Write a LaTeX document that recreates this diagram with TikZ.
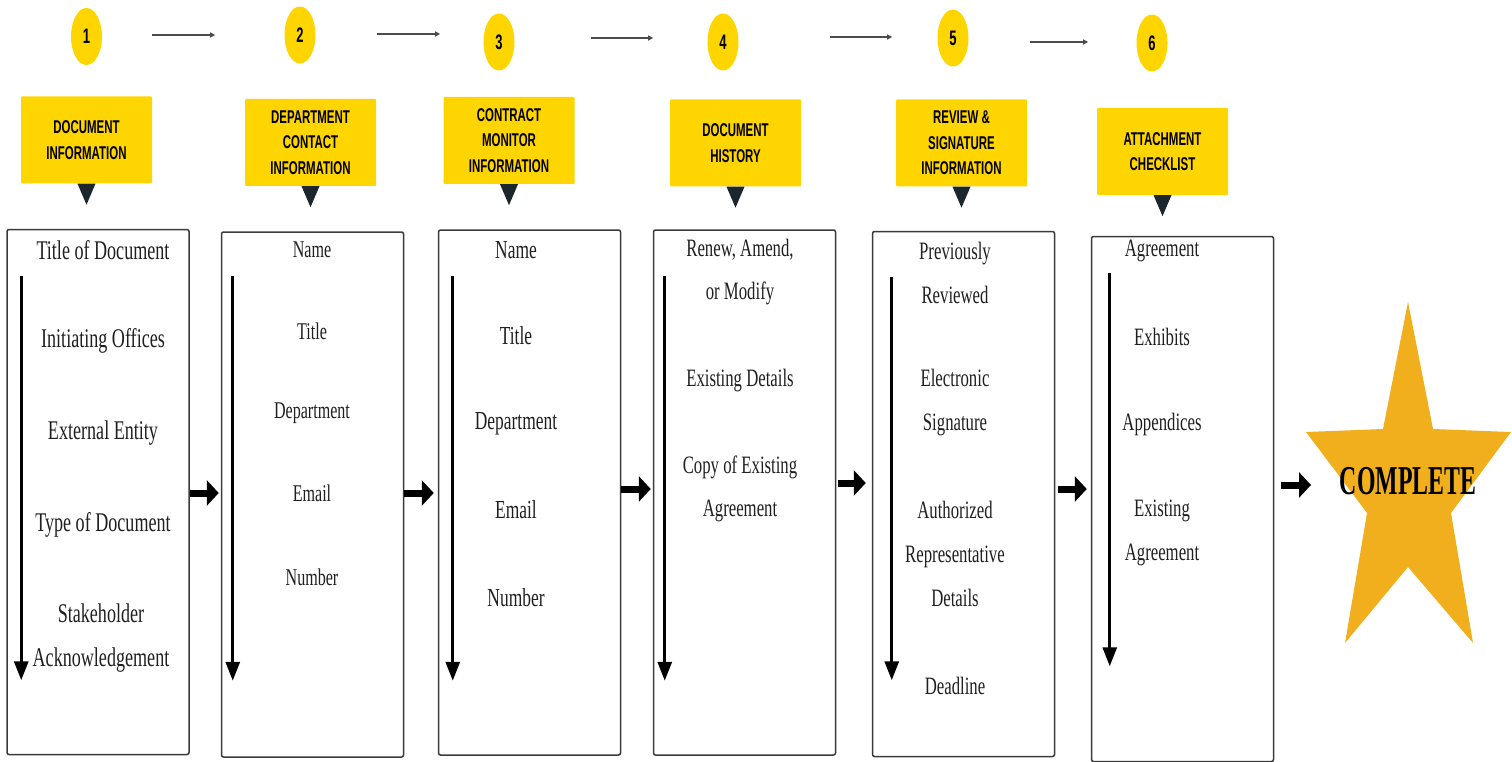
\documentclass[tikz,border=0pt]{standalone}
\usepackage{fontspec}
\usepackage{tikz}
\usetikzlibrary{arrows.meta,shapes.geometric}

\newfontfamily\itemfont[FakeStretch=0.67]{Liberation Serif}
\newfontfamily\headfont[FakeStretch=0.62]{Liberation Sans}
\newfontfamily\donefont[FakeStretch=0.58]{Liberation Serif}

\definecolor{hdyellow}{HTML}{FFD500}
\definecolor{pointer}{HTML}{1C262D}
\definecolor{starfill}{HTML}{F2AF1D}
\definecolor{frame}{HTML}{3A3A3A}

\tikzset{
  stepnum/.style={ellipse, fill=hdyellow, minimum width=31pt, minimum height=57pt, inner sep=0pt,
    font=\headfont\bfseries\fontsize{21}{21}\selectfont},
  header/.style={rectangle, fill=hdyellow, rounded corners=1pt, minimum width=131pt, minimum height=87pt,
    inner sep=0pt, align=center, font=\headfont\bfseries\fontsize{18.5}{25.5}\selectfont},
  listbox/.style={rectangle, draw=frame, line width=1.5pt, rounded corners=2pt, minimum width=182pt,
    minimum height=525pt, inner sep=0pt},
  item/.style={inner sep=0pt, align=center, text=black!88},
  toparrow/.style={draw=black!70, line width=1.5pt, -{Triangle[width=5pt,length=5pt]}},
  downarrow/.style={line width=3pt, -{Triangle[width=14pt,length=19pt]}},
  linkarrow/.style={line width=7pt, -{Triangle[width=25pt,length=12pt]}}
}

\begin{document}
\begin{tikzpicture}[x=1pt, y=-1pt]
  \useasboundingbox (0,0) rectangle (1512,762);

  % numbered steps
  \node[stepnum] (n1) at (86.5,36.5) {1};
  \node[stepnum] (n2) at (300,35) {2};
  \node[stepnum] (n3) at (499,42) {3};
  \node[stepnum] (n4) at (723,42) {4};
  \node[stepnum] (n5) at (953,38) {5};
  \node[stepnum] (n6) at (1152,43) {6};

  \draw[toparrow] ([shift={(50,-1.5)}]n1.east) -- ++(63,0);
  \draw[toparrow] ([shift={(61.5,-1)}]n2.east) -- ++(63,0);
  \draw[toparrow] ([shift={(76.5,-4)}]n3.east) -- ++(62,0);
  \draw[toparrow] ([shift={(91.5,-5)}]n4.east) -- ++(62,0);
  \draw[toparrow] ([shift={(61.5,4)}]n5.east) -- ++(58,0);

  % yellow headers
  \node[header] (h1) at (86.5,140) {DOCUMENT\\INFORMATION};
  \node[header] (h2) at (310.5,142.5) {DEPARTMENT\\CONTACT\\INFORMATION};
  \node[header] (h3) at (509,140.5) {CONTRACT\\MONITOR\\INFORMATION};
  \node[header] (h4) at (735.5,143) {DOCUMENT\\HISTORY};
  \node[header] (h5) at (961.5,143) {REVIEW \&\\SIGNATURE\\INFORMATION};
  \node[header] (h6) at (1162.5,151.5) {ATTACHMENT\\CHECKLIST};

  \fill[pointer] ([xshift=-9pt]h1.south) -- ++(18,0) -- ++(-9,21) -- cycle;
  \fill[pointer] ([xshift=-9pt]h2.south) -- ++(18,0) -- ++(-9,21) -- cycle;
  \fill[pointer] ([xshift=-9pt]h3.south) -- ++(18,0) -- ++(-9,21) -- cycle;
  \fill[pointer] ([xshift=-9pt]h4.south) -- ++(18,0) -- ++(-9,21) -- cycle;
  \fill[pointer] ([xshift=-9pt]h5.south) -- ++(18,0) -- ++(-9,21) -- cycle;
  \fill[pointer] ([xshift=-9pt]h6.south) -- ++(18,0) -- ++(-9,21) -- cycle;

  % list boxes
  \node[listbox] (b1) at (98,492) {};
  \node[listbox] (b2) at (312.5,494.5) {};
  \node[listbox] (b3) at (529.5,492.5) {};
  \node[listbox] (b4) at (744.5,492.5) {};
  \node[listbox] (b5) at (963.5,494) {};
  \node[listbox] (b6) at (1182.5,499) {};

  \draw[downarrow] ([shift={(15,47)}]b1.north west) -- ([shift={(15,-75)}]b1.south west);
  \draw[downarrow] ([shift={(12,45)}]b2.north west) -- ([shift={(12,-77)}]b2.south west);
  \draw[downarrow] ([shift={(15,47)}]b3.north west) -- ([shift={(15,-75)}]b3.south west);
  \draw[downarrow] ([shift={(12,47)}]b4.north west) -- ([shift={(12,-75)}]b4.south west);
  \draw[downarrow] ([shift={(20,46)}]b5.north west) -- ([shift={(20,-77)}]b5.south west);
  \draw[downarrow] ([shift={(19,37)}]b6.north west) -- ([shift={(19,-96)}]b6.south west);

  % box 1
  \begin{scope}[every node/.style={item, font=\itemfont\fontsize{27}{44}\selectfont}]
    \node (doctitle) at (103,250) {Title of Document};
    \node (offices) at (103,341) {Initiating Offices};
    \node (entity) at (103,433) {External Entity};
    \node (doctype) at (103,525) {Type of Document};
    \node (stake) at (101,638) {Stakeholder\\Acknowledgement};
  \end{scope}

  % box 2
  \begin{scope}[every node/.style={item, font=\itemfont\fontsize{24}{44}\selectfont}]
    \node (dname) at (312,250) {Name};
    \node (dtitle) at (312,331) {Title};
    \node (ddept) at (312,413) {Department};
    \node (demail) at (312,493) {Email};
    \node (dnum) at (312,577) {Number};
  \end{scope}

  % box 3
  \begin{scope}[every node/.style={item, font=\itemfont\fontsize{26}{44}\selectfont}]
    \node (mname) at (516,250) {Name};
    \node (mtitle) at (516,336) {Title};
    \node (mdept) at (516,424) {Department};
    \node (memail) at (516,510) {Email};
    \node (mnum) at (516,598) {Number};
  \end{scope}

  % box 4
  \begin{scope}[every node/.style={item, font=\itemfont\fontsize{25}{43}\selectfont}]
    \node (renew) at (740,272.5) {Renew, Amend,\\or Modify};
    \node (details) at (740,381) {Existing Details};
    \node (copy) at (740,488.5) {Copy of Existing\\Agreement};
  \end{scope}

  % box 5
  \begin{scope}[every node/.style={item, font=\itemfont\fontsize{25}{44}\selectfont}]
    \node (prev) at (955,272.5) {Previously\\Reviewed};
    \node (esig) at (955,402.5) {Electronic\\Signature};
    \node (authrep) at (955,554) {Authorized\\Representative\\Details};
    \node (deadline) at (955,686) {Deadline};
  \end{scope}

  % box 6
  \begin{scope}[every node/.style={item, font=\itemfont\fontsize{25}{44}\selectfont}]
    \node (agree) at (1162,251) {Agreement};
    \node (exhib) at (1162,337) {Exhibits};
    \node (append) at (1162,424) {Appendices};
    \node (existing) at (1162,533) {Existing\\Agreement};
  \end{scope}

  % star
  \fill[starfill] (1408,302) -- (1433,429) -- (1511,432) -- (1451,513) -- (1473,643) -- (1408,567)
    -- (1345,643) -- (1367,513) -- (1306,432) -- (1383,429) -- cycle;
  \node[inner sep=0pt, font=\donefont\bfseries\fontsize{41}{41}\selectfont] (done) at (1408,481) {COMPLETE};
  \coordinate (donein) at (1311,485);

  \draw[linkarrow] (b1.east |- 0,493) -- ([xshift=-2pt]b2.west |- 0,493);
  \draw[linkarrow] (b2.east |- 0,493) -- ([xshift=-4pt]b3.west |- 0,493);
  \draw[linkarrow] (b3.east |- 0,489) -- ([xshift=-2pt]b4.west |- 0,489);
  \draw[linkarrow] ([xshift=2pt]b4.east |- 0,483) -- ([xshift=-6pt]b5.west |- 0,483);
  \draw[linkarrow] ([xshift=3pt]b5.east |- 0,489) -- ([xshift=-4pt]b6.west |- 0,489);
  \draw[linkarrow] ([xshift=7pt]b6.east |- 0,485) -- (donein);
\end{tikzpicture}
\end{document}
